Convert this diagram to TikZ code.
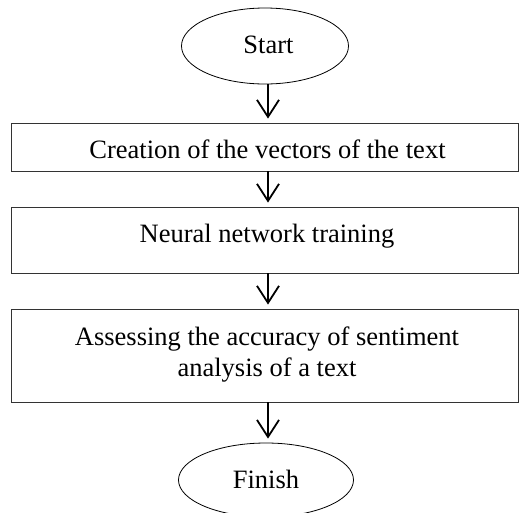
\documentclass[tikz,border=0pt]{standalone}
\usepackage{fontspec}
\setmainfont{Liberation Serif}
\usetikzlibrary{shapes.geometric,arrows.meta}
\begin{document}
\begin{tikzpicture}[x=1pt,y=-1pt,
  every node/.style={inner sep=0pt},
  caption/.style={font=\fontsize{26.5}{31}\selectfont, anchor=base},
  stepbox/.style={draw=black!80, line width=0.9pt, rectangle, minimum width=507pt},
  terminal/.style={draw=black, line width=0.8pt, ellipse},
  flow/.style={line width=1.8pt, -{Straight Barb[length=17pt,width=22pt,line width=1.8pt]}, shorten >=4pt}
]
\useasboundingbox (0,0) rectangle (520,512);
% outlines
\node[terminal, minimum width=167pt, minimum height=76pt] (start) at (265,46) {};
\node[stepbox, minimum height=48pt] (vec) at (264.5,147) {};
\node[stepbox, minimum height=66pt] (train) at (264.5,240) {};
\node[stepbox, minimum height=93pt] (assess) at (264.5,355.5) {};
\node[terminal, minimum width=175pt, minimum height=74pt] (finish) at (266,480) {};
% captions, placed on their baselines
\node[caption] (startT) at (268.5,53) {Start};
\node[caption] (vecT) at (267.5,158) {Creation of the vectors of the text};
\node[caption] (trainT) at (267,242) {Neural network training};
\node[caption] (assessA) at (267,345) {Assessing the accuracy of sentiment};
\node[caption] (assessB) at (267,376) {analysis of a text};
\node[caption] (finishT) at (266,488) {Finish};
% connectors
\draw[flow] (start.south -| 268,0) -- (vec.north -| 268,0);
\draw[flow] (vec.south -| 268,0) -- (train.north -| 268,0);
\draw[flow] (train.south -| 268,0) -- (assess.north -| 268,0);
\draw[flow] (assess.south -| 268,0) -- (finish.north -| 268,0);
\end{tikzpicture}
\end{document}
